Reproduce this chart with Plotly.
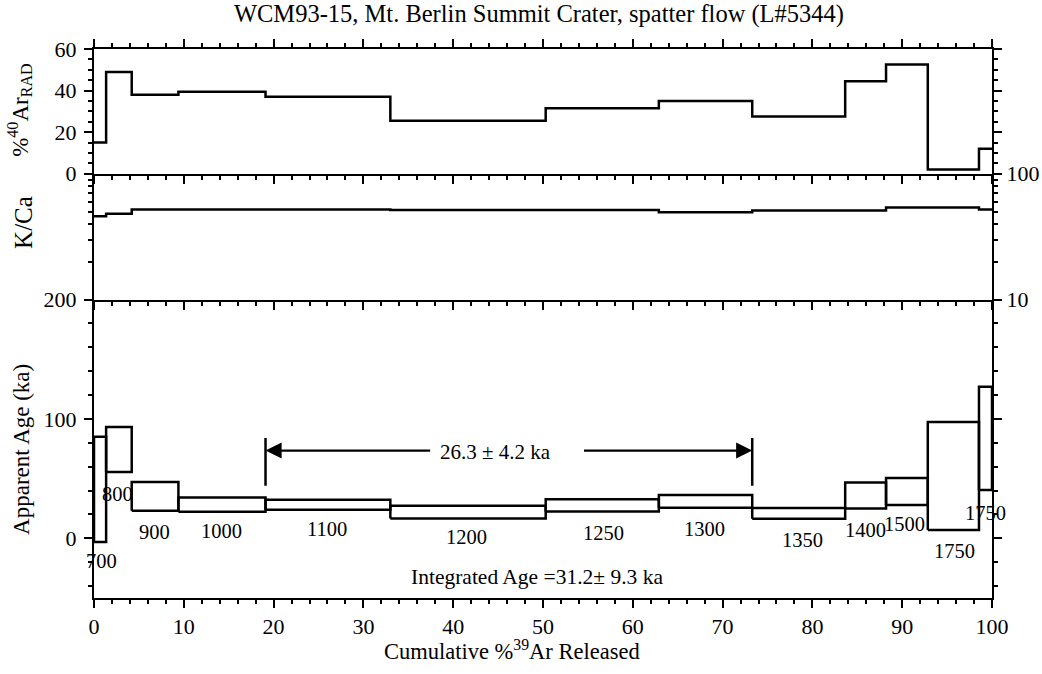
import plotly.graph_objects as go
from plotly.subplots import make_subplots

# ---------------- data ----------------
step_temps = ["700", "800", "900", "1000", "1100", "1200", "1250", "1300",
              "1350", "1400", "1500", "1750", "1750"]
cum39 = [0, 1.35, 4.2, 9.4, 19.1, 33.0, 50.3, 62.9, 73.3, 83.65, 88.2, 92.85, 98.55, 100]
pct40rad = [15, 49, 38, 39.5, 37, 25.5, 31.5, 35, 27.5, 44.5, 52.5, 2, 12]
k_ca = [46, 48, 52, 52, 52, 51.5, 51.5, 49.5, 51, 51, 54, 54, 52]
age_lo = [-3, 55.5, 23, 22.2, 24, 16.6, 22.5, 25.5, 16.4, 25, 28, 7, 40.5]
age_hi = [85, 93.3, 47.2, 34.2, 32.4, 27.2, 32.8, 36.3, 25.3, 46.7, 50.6, 97.4, 127]
# label anchor (cumulative %, age) for each step temperature
label_cum = [0.8, 2.6, 6.7, 14.2, 25.9, 41.5, 56.7, 68.0, 78.9, 85.9, 90.2, 95.8, 99.3]
label_age = [-18.7, 37.5, 5.4, 6.2, 7.5, 0.7, 4.5, 7.9, -1.1, 7.2, 11.7, -11, 21]

plateau_bounds = [19.1, 73.3]
plateau_bar_age = [44, 84]
plateau_arrow_age = 73.5
plateau_gap = [37.6, 54.4]
plateau_text = "26.3 \u00b1 4.2 ka"
plateau_text_pos = [44.7, 72]
integrated_text = "Integrated Age =31.2\u00b1 9.3 ka"
integrated_pos = [49.3, -32]

title = "WCM93-15, Mt. Berlin Summit Crater, spatter flow (L#5344)"

FONT = "Liberation Serif"
BLACK = "black"

fig = make_subplots(rows=3, cols=1, vertical_spacing=0, row_heights=[125, 126, 299])

# top panel: %40Ar rad step plot
fig.add_trace(go.Scatter(x=cum39, y=pct40rad + [pct40rad[-1]], mode="lines",
                         line=dict(shape="hv", color=BLACK, width=2.5),
                         showlegend=False, hoverinfo="skip"), row=1, col=1)
# middle panel: K/Ca step plot
fig.add_trace(go.Scatter(x=cum39, y=k_ca + [k_ca[-1]], mode="lines",
                         line=dict(shape="hv", color=BLACK, width=2.5),
                         showlegend=False, hoverinfo="skip"), row=2, col=1)
# bottom panel: age spectrum boxes
bx, by = [], []
for i in range(len(age_lo)):
    x0, x1 = cum39[i], cum39[i + 1]
    bx += [x0, x1, x1, x0, x0, None]
    by += [age_lo[i], age_lo[i], age_hi[i], age_hi[i], age_lo[i], None]
fig.add_trace(go.Scatter(x=bx, y=by, mode="lines", line=dict(color=BLACK, width=2.5),
                         showlegend=False, hoverinfo="skip"), row=3, col=1)

# plateau bounds
for xb in plateau_bounds:
    fig.add_trace(go.Scatter(x=[xb, xb], y=plateau_bar_age, mode="lines",
                             line=dict(color=BLACK, width=2.5),
                             showlegend=False, hoverinfo="skip"), row=3, col=1)

axis_common = dict(showgrid=False, zeroline=False, showline=True, linecolor=BLACK,
                   linewidth=2, ticks="outside", tickcolor=BLACK, tickwidth=2,
                   automargin=False,
                   tickfont=dict(family=FONT, size=22, color=BLACK))

xminor = dict(dtick=2, ticks="outside", ticklen=4, tickwidth=1.5, tickcolor=BLACK)
for r in (1, 2, 3):
    fig.update_xaxes(range=[0, 100], dtick=10, tick0=0, ticklen=8, minor=xminor,
                     showticklabels=(r == 3), row=r, col=1, **axis_common)
fig.update_xaxes(mirror="ticks", row=1, col=1)

fig.update_yaxes(range=[0, 60], tickvals=[0, 20, 40, 60], ticklen=8, mirror="ticks",
                 minor=dict(dtick=5, tick0=0, ticks="outside", ticklen=4, tickwidth=1.5,
                            tickcolor=BLACK),
                 ticklabelstandoff=3, row=1, col=1, **axis_common)
fig.update_yaxes(type="log", range=[1, 2], tickvals=[10, 100], ticktext=["10", "100"],
                 side="right", ticklen=6, mirror="ticks",
                 minor=dict(tickvals=[20, 30, 40, 50, 60, 70, 80, 90], ticks="outside",
                            ticklen=4, tickwidth=1.5, tickcolor=BLACK),
                 ticklabelstandoff=2, row=2, col=1, **axis_common)
fig.update_yaxes(range=[-50, 200], tickvals=[0, 100, 200], ticklen=8, mirror="ticks",
                 minor=dict(dtick=20, tick0=0, ticks="outside", ticklen=4, tickwidth=1.5,
                            tickcolor=BLACK),
                 ticklabelstandoff=3, row=3, col=1, **axis_common)

annotations = []
for t, cx, cy in zip(step_temps, label_cum, label_age):
    annotations.append(dict(x=cx, y=cy, xref="x3", yref="y3", text=t, showarrow=False,
                            font=dict(family=FONT, size=20.5, color=BLACK)))
# plateau arrows
for start, tip in ((plateau_gap[0], plateau_bounds[0]), (plateau_gap[1], plateau_bounds[1])):
    annotations.append(dict(x=tip, y=plateau_arrow_age, ax=start, ay=plateau_arrow_age,
                            xref="x3", yref="y3", axref="x3", ayref="y3",
                            text="", showarrow=True, arrowhead=2, arrowsize=1.4,
                            arrowwidth=2.3, arrowcolor=BLACK, standoff=0))
annotations.append(dict(x=plateau_text_pos[0], y=plateau_text_pos[1], xref="x3", yref="y3",
                        text=plateau_text, showarrow=False,
                        font=dict(family=FONT, size=21, color=BLACK)))
annotations.append(dict(x=integrated_pos[0], y=integrated_pos[1], xref="x3", yref="y3",
                        text=integrated_text, showarrow=False,
                        font=dict(family=FONT, size=21.5, color=BLACK)))
# axis titles
ytitle_font = dict(family=FONT, size=23, color=BLACK)
annotations.append(dict(x=-0.0825, y=0.889, xref="paper", yref="paper", textangle=-90,
                        text="%<sup>40</sup>Ar<sub>RAD</sub>", showarrow=False,
                        font=ytitle_font, xanchor="center", yanchor="middle"))
annotations.append(dict(x=-0.078, y=0.685, xref="paper", yref="paper", textangle=-90,
                        text="K/Ca", showarrow=False,
                        font=dict(family=FONT, size=25, color=BLACK),
                        xanchor="center", yanchor="middle"))
annotations.append(dict(x=-0.080, y=0.27, xref="paper", yref="paper", textangle=-90,
                        text="Apparent Age (ka)", showarrow=False, font=ytitle_font,
                        xanchor="center", yanchor="middle"))
annotations.append(dict(x=0.465, y=-0.0947, xref="paper", yref="paper",
                        text="Cumulative %<sup>39</sup>Ar Released", showarrow=False,
                        font=dict(family=FONT, size=22.5, color=BLACK),
                        xanchor="center", yanchor="middle"))

fig.update_layout(
    width=1042, height=674,
    margin=dict(l=94, r=50, t=49, b=76, autoexpand=False),
    paper_bgcolor="white", plot_bgcolor="white",
    showlegend=False,
    title=dict(text=title, x=0.4955, xref="paper", xanchor="center",
               y=1 - 13 / 674, yref="container", yanchor="middle",
               font=dict(family=FONT, size=24.5, color=BLACK)),
    annotations=annotations,
)

fig.write_html("out.html")
